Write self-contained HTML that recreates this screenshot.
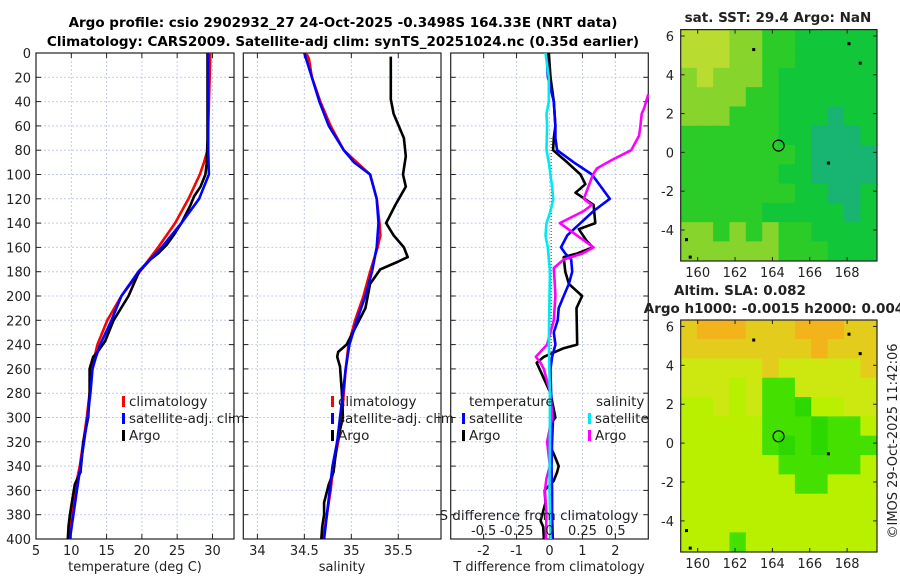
<!DOCTYPE html>
<html><head><meta charset="utf-8"><style>
html,body{margin:0;padding:0;background:#fff;}
svg{display:block;font-family:"DejaVu Sans","Liberation Sans",sans-serif;}
</style></head><body>
<svg id="fig" width="900" height="580" viewBox="0 0 900 580" xmlns="http://www.w3.org/2000/svg">
<text x="343" y="27" text-anchor="middle" font-size="13.5" font-weight="bold">Argo profile: csio 2902932_27 24-Oct-2025 -0.3498S 164.33E (NRT data)</text>
<text x="343" y="46" text-anchor="middle" font-size="13.5" font-weight="bold">Climatology: CARS2009. Satellite-adj clim: synTS_20251024.nc (0.35d earlier)</text>
<g id="root"></g>
</svg>
<script>
// ---- data (depth in m) ----
const depthTicks=[0,20,40,60,80,100,120,140,160,180,200,220,240,260,280,300,320,340,360,380,400];
const tempTicks=[5,10,15,20,25,30];
const salTicks=[34,34.5,35,35.5];
const tdiffTicks=[-2,-1,0,1,2];
const sdiffTicks=[-0.5,-0.25,0,0.25,0.5];
const sdiffLabels=["-0.5","-0.25","0","0.25","0.5"];

const climTDepth=[0,80,90,100,120,140,160,180,200,220,240,260,280,300,320,340,360,380,400];
const climT=[29.7,29.3,28.8,28.2,26.6,24.7,22.3,19.7,17.1,15.1,13.7,12.9,12.6,12.2,11.7,11.2,10.5,10.1,9.7];
const satTDepth=[0,80,100,120,140,160,180,200,220,240,250,260,280,300,320,340,360,380,400];
const satT=[29.4,29.4,29.5,28.1,25.6,22.8,19.5,17.1,15.7,14.1,13.5,13.0,12.7,12.3,11.8,11.3,10.8,10.3,9.8];
const argoDepth=[0,71,90,100,110,118,125,140,150,158,165,170,180,200,220,237,247,250,260,280,300,320,345,355,380,390,400];
const argoT=[29.3,29.3,29.2,29.0,28.3,27.4,26.9,25.6,24.5,23.5,22.3,21.2,19.6,18.1,16.0,14.8,13.6,13.1,12.6,12.6,12.4,11.7,11.3,10.5,9.8,9.6,9.5];

const climSDepth=[0,5,20,40,60,80,90,100,120,140,150,160,180,200,220,240,260,280,300,320,340,360,380,400];
const climS=[34.52,34.55,34.58,34.67,34.78,34.92,35.06,35.2,35.27,35.30,35.31,35.28,35.2,35.13,35.04,34.97,34.94,34.92,34.9,34.86,34.81,34.78,34.74,34.7];
const satSDepth=[0,20,40,60,80,90,100,120,140,160,180,200,220,240,260,280,300,320,340,360,380,400];
const satS=[34.5,34.58,34.66,34.76,34.92,35.03,35.2,35.27,35.29,35.27,35.22,35.15,35.06,34.98,34.94,34.91,34.88,34.85,34.8,34.77,34.74,34.71];
const argoSDepth=[3,38,50,70,85,100,110,125,140,150,160,168,172,178,190,210,240,246,250,258,280,300,320,345,355,370,380,390,400];
const argoS=[35.42,35.42,35.45,35.56,35.58,35.55,35.58,35.47,35.37,35.45,35.56,35.60,35.49,35.31,35.2,35.15,34.95,34.86,34.85,34.88,34.9,34.91,34.85,34.81,34.76,34.71,34.71,34.69,34.68];

const tdSatDepth=[0,20,40,60,70,80,90,100,120,130,140,150,160,165,170,180,190,200,210,220,230,240,250,260,280,300,320,340,360,380,400];
const tdSat=[-0.09,-0.05,0.13,0.18,0.18,0.23,0.74,1.29,1.83,1.34,0.94,0.54,0.35,0.48,0.66,0.69,0.59,0.43,0.28,0.25,0.13,0.18,0.08,0.03,0.05,0.11,0.08,0.06,0.08,0.08,0.10];
const tdArgoDepth=[0,20,40,60,70,80,90,100,108,115,125,140,145,155,160,165,168,180,190,200,210,240,243,250,255,262,280,300,305,320,330,340,345,352,360,370,385,390,400];
const tdArgo=[-0.02,0.03,0.13,0.18,0.13,0.11,0.54,0.94,1.09,0.79,1.34,1.39,0.89,1.14,1.32,0.84,0.43,0.48,0.59,0.99,0.82,0.84,0.43,-0.17,-0.39,-0.27,0.03,0.18,0.03,-0.05,0.13,0.28,0.23,0.13,-0.15,-0.12,-0.27,-0.19,-0.17];
const sdSatDepth=[0,20,40,50,60,80,90,110,120,130,140,150,160,180,200,240,280,320,360,400];
const sdSat=[-0.03,-0.005,-0.005,-0.023,-0.018,-0.023,-0.005,0.02,0.028,0.008,-0.023,-0.03,-0.013,0.003,0,-0.005,0.003,0.003,0,0.008];
const sdArgoDepth=[34,45,50,60,68,80,88,95,100,120,125,130,140,160,165,170,177,190,200,220,240,250,255,260,270,280,300,320,340,350,360,380,400];
const sdArgo=[0.75,0.72,0.70,0.69,0.68,0.62,0.475,0.36,0.33,0.26,0.32,0.26,0.078,0.335,0.25,0.108,0.033,0.04,0.045,0.033,-0.018,-0.103,-0.068,-0.043,-0.018,0.008,0.02,-0.018,0.003,-0.023,-0.035,-0.023,-0.028];

// map data
const lonTicks=[160,162,164,166,168];
const latTicks=[6,4,2,0,-2,-4];
const sstPalette={Y:"#b8dc30",L:"#86d42c",G:"#2ccc28",D:"#12c63a",T:"#18b472"};
const sstGrid=["YYYLLGGDDDDD","YYYLLGGDDDDD","LYLLLGDDDDDD","LLLLGGDDDDDD","LLLGGGDDDTDD","GGGGGGDDTTTD","GGGGGGGDTTTT","GGGGGGDDTTTT","GGGGGGGDDTTD","GGGGGDDDDDTD","LLGLGLGGDDDD","LLLLLLGGGDDD"];
const slaPalette={O:"#f2b41a",y:"#e4cc1c",A:"#cce810",B:"#b8f000",g:"#44e000",h:"#2cd800"};
const slaGrid=["yOOOyyyOOOyy","yyyyyyyyOyyy","AAAAAyAAAAAy","AAABAggAAAAA","BBABAgghBBAA","BBBBBggghggB","BBBBBghghggg","BBBBBBgggggB","BBBBBBBggBBB","BBBBBBBBBBBB","BBBBBBBBBBBB","BBBgBBBBBBBB"];
const dotLon=[163,168.1,168.7,167,159.4,159.6];
const dotLat=[5.3,5.6,4.6,-0.55,-4.5,-5.4];
const argoLon=164.33, argoLat=0.35;

// ---- drawing ----
const NS="http://www.w3.org/2000/svg";
const root=document.getElementById('root');
function mk(tag,attrs,parent){const e=document.createElementNS(NS,tag);for(const k in attrs)e.setAttribute(k,attrs[k]);(parent||root).appendChild(e);return e;}
const TOP=53,BOT=539;
const yD=d=>TOP+(d/400)*(BOT-TOP);
function panel(x0,x1,xmin,xmax){return {x0,x1,sx:v=>x0+(v-xmin)/(xmax-xmin)*(x1-x0)};}
const P1=panel(36,234,5,33.05);
const P2=panel(243.3,441,33.85,35.955);
const P3=panel(450.7,648.3,-3,3);

function frame(P,xt,name){
  const g=mk('g',{});
  
  
  xt.forEach(v=>{const x=P.sx(v);
    const l=mk('line',{x1:x,x2:x,y1:TOP,y2:BOT,stroke:'#c4cce6','stroke-width':1,'stroke-dasharray':'2,2'},g);
    
    mk('line',{x1:x,x2:x,y1:TOP,y2:TOP+5,stroke:'#222'},g);mk('line',{x1:x,x2:x,y1:BOT,y2:BOT-5,stroke:'#222'},g);});
  depthTicks.forEach(d=>{const y=yD(d);
    const l=mk('line',{x1:P.x0,x2:P.x1,y1:y,y2:y,stroke:'#c4cce6','stroke-width':1,'stroke-dasharray':'2,2'},g);
    
    mk('line',{x1:P.x0,x2:P.x0+5,y1:y,y2:y,stroke:'#222'},g);mk('line',{x1:P.x1,x2:P.x1-5,y1:y,y2:y,stroke:'#222'},g);});
  const r=mk('rect',{x:P.x0,y:TOP,width:P.x1-P.x0,height:BOT-TOP,fill:'none',stroke:'#222','stroke-width':1.2},g);
  
  return g;
}
function series(P,vals,depths,color,name,w){
  const pts=vals.map((v,i)=>P.sx(v).toFixed(1)+','+yD(depths[i]).toFixed(1)).join(' ');
  const e=mk('polyline',{points:pts,fill:'none',stroke:color,'stroke-width':w||2.6,'stroke-linejoin':'round'});
  
  
}
function txt(x,y,s,opts,name){const e=mk('text',Object.assign({x,y,'font-size':13,fill:'#222'},opts||{}));e.textContent=s;
  
  return e;}
function legend(x,y,color,label,name){
  const r=mk('rect',{x:x,y:y-10,width:3,height:11,fill:color});
  
  
  txt(x+7,y,label,{'font-size':13.5},name);
}

// panel 1
frame(P1,tempTicks.slice(1),'temperature-axes');
depthTicks.forEach(d=>txt(31,yD(d)+5,String(d),{'text-anchor':'end'},'y-tick-label'));
tempTicks.forEach(v=>txt(P1.sx(v),555,String(v),{'text-anchor':'middle'},'x-tick-label'));
txt(135,571,'temperature (deg C)',{'text-anchor':'middle'},'x-axis-title-temperature');
series(P1,climT,climTDepth,'#ff0000','climatology-temperature-line');
series(P1,argoT,argoDepth,'#000000','argo-temperature-line');
series(P1,satT,satTDepth,'#0000ff','satellite-temperature-line');
legend(122,406,'#ff0000','climatology','legend-climatology');
legend(122,423,'#0000ff','satellite-adj. clim','legend-satellite');
legend(122,440,'#000000','Argo','legend-argo');

// panel 2
frame(P2,salTicks,'salinity-axes');
salTicks.forEach(v=>txt(P2.sx(v),555,String(v),{'text-anchor':'middle'},'x-tick-label'));
txt(342,571,'salinity',{'text-anchor':'middle'},'x-axis-title-salinity');
series(P2,climS,climSDepth,'#ff0000','climatology-salinity-line');
series(P2,argoS,argoSDepth,'#000000','argo-salinity-line');
series(P2,satS,satSDepth,'#0000ff','satellite-salinity-line');
legend(331,406,'#ff0000','climatology','legend-climatology');
legend(331,423,'#0000ff','satellite-adj. clim','legend-satellite');
legend(331,440,'#000000','Argo','legend-argo');

// panel 3
frame(P3,tdiffTicks,'difference-axes');
const zl=mk('line',{x1:P3.sx(0.05),x2:P3.sx(0.05),y1:yD(70),y2:yD(285),stroke:'#333','stroke-width':1,'stroke-dasharray':'1,2'});


tdiffTicks.forEach(v=>txt(P3.sx(v),555,String(v),{'text-anchor':'middle'},'x-tick-label'));
txt(549,571,'T difference from climatology',{'text-anchor':'middle'},'x-axis-title-tdiff');
series(P3,tdArgo,tdArgoDepth,'#000000','argo-tdiff-line');
series(P3,tdSat,tdSatDepth,'#0000ff','satellite-tdiff-line');
series(P3,sdArgo.map(v=>v*4),sdArgoDepth,'#ff00ff','argo-sdiff-line');
series(P3,sdSat.map(v=>v*4),sdSatDepth,'#00e8f0','satellite-sdiff-line');
txt(539,520,'S difference from climatology',{'text-anchor':'middle','font-size':13.5},'s-axis-title');
sdiffTicks.forEach((v,i)=>txt(P3.sx(v*4),535,sdiffLabels[i],{'text-anchor':'middle'},'s-tick-label'));
txt(469,406,'temperature',{'font-size':13.5},'legend-temperature-header');
txt(596,406,'salinity',{'font-size':13.5},'legend-salinity-header');
legend(462,423,'#0000ff','satellite','legend-t-satellite');
legend(462,440,'#000000','Argo','legend-t-argo');
legend(588,423,'#00e8f0','satellite','legend-s-satellite');
legend(588,440,'#ff00ff','Argo','legend-s-argo');

// maps
function map(top,bot,grid,pal,title,name,labelY){
  const M={x0:680.7,x1:877,y0:top,y1:bot};
  const lx=v=>M.x0+(v-159.09)/(169.6-159.09)*(M.x1-M.x0);
  const ly=v=>M.y0+(6.33-v)/(6.33+5.6)*(M.y1-M.y0);
  const g=mk('g',{});
  
  
  const cw=(M.x1-M.x0)/12,ch=(M.y1-M.y0)/12;
  grid.forEach((row,r)=>{for(let c=0;c<12;c++){
    mk('rect',{x:M.x0+c*cw-0.3,y:M.y0+r*ch-0.3,width:cw+0.6,height:ch+0.6,fill:pal[row[c]]},g);}});
  dotLon.forEach((v,i)=>{const d=mk('rect',{x:lx(v)-1.5,y:ly(dotLat[i])-1.5,width:3,height:3,fill:'#000'},g);
    });
  const c=mk('circle',{cx:lx(argoLon),cy:ly(argoLat),r:5.5,fill:'none',stroke:'#000','stroke-width':1.2},g);
  
  mk('rect',{x:M.x0,y:M.y0,width:M.x1-M.x0,height:M.y1-M.y0,fill:'none',stroke:'#222','stroke-width':1.2},g);
  lonTicks.forEach(v=>{const x=lx(v);mk('line',{x1:x,x2:x,y1:M.y1,y2:M.y1-4,stroke:'#222'},g);mk('line',{x1:x,x2:x,y1:M.y0,y2:M.y0+4,stroke:'#222'},g);
    txt(x,labelY,String(v),{'text-anchor':'middle'},'map-lon-tick-label');});
  latTicks.forEach(v=>{const y=ly(v);mk('line',{x1:M.x0,x2:M.x0+4,y1:y,y2:y,stroke:'#222'},g);mk('line',{x1:M.x1,x2:M.x1-4,y1:y,y2:y,stroke:'#222'},g);
    txt(674,y+5,String(v),{'text-anchor':'end'},'map-lat-tick-label');});
}
map(29.6,261,sstGrid,sstPalette,'','sst-map',277);
map(320,552,slaGrid,slaPalette,'','sla-map',568);
txt(778,22,'sat. SST: 29.4 Argo: NaN',{'text-anchor':'middle','font-weight':'bold','font-size':13.5},'sst-map-title');
txt(740,295,'Altim. SLA: 0.082',{'text-anchor':'middle','font-weight':'bold','font-size':13.5},'sla-map-title');
txt(774,313,'Argo h1000: -0.0015 h2000: 0.004',{'text-anchor':'middle','font-weight':'bold','font-size':13.5},'sla-map-subtitle');
txt(0,0,'©IMOS 29-Oct-2025 11:42:06',{'text-anchor':'middle','transform':'translate(897,441) rotate(-90)'},'copyright-note');
</script>
</body></html>
